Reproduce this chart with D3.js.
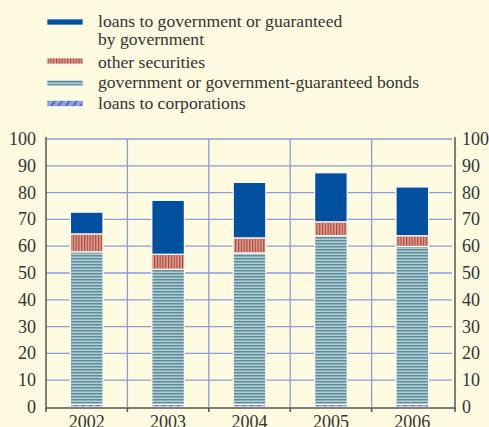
<!DOCTYPE html>
<html><head><meta charset="utf-8">
<script src="https://cdn.jsdelivr.net/npm/d3@7"></script>
<style>
html,body{margin:0;padding:0;background:#fefbe0;}
svg{display:block;}
</style></head>
<body>
<script>
const years = ["2002","2003","2004","2005","2006"];
const loansCorp = [1, 1, 1, 1, 1];
const bonds = [56.9, 50.4, 56.5, 62.9, 58.9];
const otherSec = [6.7, 5.6, 5.6, 5.2, 4.0];
const loansGov = [8.1, 20.1, 20.7, 18.3, 18.2];
const yTicks = [0,10,20,30,40,50,60,70,80,90,100];
const legendLabels = [
  ["loans to government or guaranteed","by government"],
  ["other securities"],
  ["government or government-guaranteed bonds"],
  ["loans to corporations"]
];

const FONT = "Liberation Serif";
const W = 489, H = 427;
const svg = d3.select("body").append("svg").attr("width", W).attr("height", H);
const defs = svg.append("defs");

// patterns
const pOther = defs.append("pattern").attr("id","pOther").attr("patternUnits","userSpaceOnUse").attr("width",2.8).attr("height",10);
pOther.append("rect").attr("width",2.8).attr("height",10).attr("fill","#dba592");
pOther.append("rect").attr("width",1.2).attr("height",10).attr("fill","#b0403f");

const pBonds = defs.append("pattern").attr("id","pBonds").attr("patternUnits","userSpaceOnUse").attr("width",10).attr("height",3);
pBonds.append("rect").attr("width",10).attr("height",3).attr("fill","#b4cdd2");
pBonds.append("rect").attr("width",10).attr("height",1.5).attr("fill","#5a8e9c");

const pCorp = defs.append("pattern").attr("id","pCorp").attr("patternUnits","userSpaceOnUse").attr("width",6).attr("height",6).attr("patternTransform","rotate(35)");
pCorp.append("rect").attr("width",6).attr("height",6).attr("fill","#8fa3d8");
pCorp.append("rect").attr("width",1.5).attr("height",6).attr("fill","#3d5fb8");

const fills = ["#0050a0","url(#pOther)","url(#pBonds)","url(#pCorp)"];

const x0 = 46, x1 = 453, yTop = 139, yBot = 407;
const x = d3.scaleBand().domain(years).range([x0, x1]).padding(0);
const y = d3.scaleLinear().domain([0,100]).range([yBot, yTop]);

// grid
const grid = svg.append("g");
grid.selectAll("line.h").data(yTicks.filter(d=>d>0)).join("line")
  .attr("x1", x0).attr("x2", x1 - 1).attr("y1", d=>y(d)).attr("y2", d=>y(d))
  .attr("stroke","#8e9bd6").attr("stroke-width",1.3);
grid.selectAll("line.v").data(years.slice(1)).join("line")
  .attr("x1", d=>x(d)).attr("x2", d=>x(d)).attr("y1", yTop).attr("y2", yBot)
  .attr("stroke","#8e9bd6").attr("stroke-width",1.3);

// stacks
const rows = years.map((yr,i)=>({year:yr, corp:loansCorp[i], bonds:bonds[i], other:otherSec[i], gov:loansGov[i]}));
const stack = d3.stack().keys(["corp","bonds","other","gov"]);
const series = stack(rows);
const fillByKey = {corp:"url(#pCorp)", bonds:"url(#pBonds)", other:"url(#pOther)", gov:"#0050a0"};
const bw = x.bandwidth()*0.4;
series.forEach(s=>{
  svg.append("g").selectAll("rect").data(s).join("rect")
    .attr("x", d=> x(d.data.year) + (x.bandwidth()-bw)/2)
    .attr("width", bw)
    .attr("y", d=> y(d[1]))
    .attr("height", d=> y(d[0]) - y(d[1]))
    .attr("fill", fillByKey[s.key])
    .attr("stroke","#fefbf0").attr("stroke-width",1.2);
});

// axes
const axisCol = "#555";
svg.append("line").attr("x1",x0).attr("x2",x0).attr("y1",yTop-2).attr("y2",yBot+2).attr("stroke",axisCol).attr("stroke-width",1.5);
svg.append("line").attr("x1",x1+2).attr("x2",x1+2).attr("y1",yTop-2).attr("y2",yBot+2).attr("stroke",axisCol).attr("stroke-width",1.5);
svg.append("line").attr("x1",x0).attr("x2",x1+2).attr("y1",yBot+1).attr("y2",yBot+1).attr("stroke",axisCol).attr("stroke-width",1.5);
const xBounds = years.map(d=>x(d)).concat([x1+2]);
svg.selectAll("line.xt").data(xBounds).join("line")
  .attr("x1",d=>d).attr("x2",d=>d).attr("y1",yBot+1).attr("y2",yBot+5)
  .attr("stroke",axisCol).attr("stroke-width",1.5);

const txtCol = "#333";
svg.selectAll("text.yl").data(yTicks).join("text")
  .attr("font-family",FONT)
  .attr("x", 36).attr("y", d=>y(d)+6).attr("text-anchor","end")
  .attr("font-size",18).attr("fill",txtCol).text(d=>d);
svg.selectAll("text.yr").data(yTicks).join("text")
  .attr("font-family",FONT)
  .attr("x", 462).attr("y", d=>y(d)+6).attr("text-anchor","start")
  .attr("font-size",18).attr("fill",txtCol).text(d=>d);
svg.selectAll("text.xl").data(years).join("text")
  .attr("font-family",FONT)
  .attr("x", d=>x(d)+x.bandwidth()/2).attr("y", 428).attr("text-anchor","middle")
  .attr("font-size",18).attr("fill",txtCol).text(d=>d);

// legend
const legSw = [22, 61, 83, 103.5];
const legBase = [[26.5,45],[67.5],[87.5],[108.5]];
legendLabels.forEach((lines,i)=>{
  svg.append("rect").attr("x",47).attr("y",legSw[i]-3).attr("width",36).attr("height",6)
    .attr("fill",fills[i]).attr("stroke","#e8eef2").attr("stroke-width",0.8);
  lines.forEach((t,j)=>{
    svg.append("text").attr("font-family",FONT).attr("x",98).attr("y",legBase[i][j]).attr("font-size",17.6)
      .attr("fill",txtCol).text(t);
  });
});
</script>
</body></html>
